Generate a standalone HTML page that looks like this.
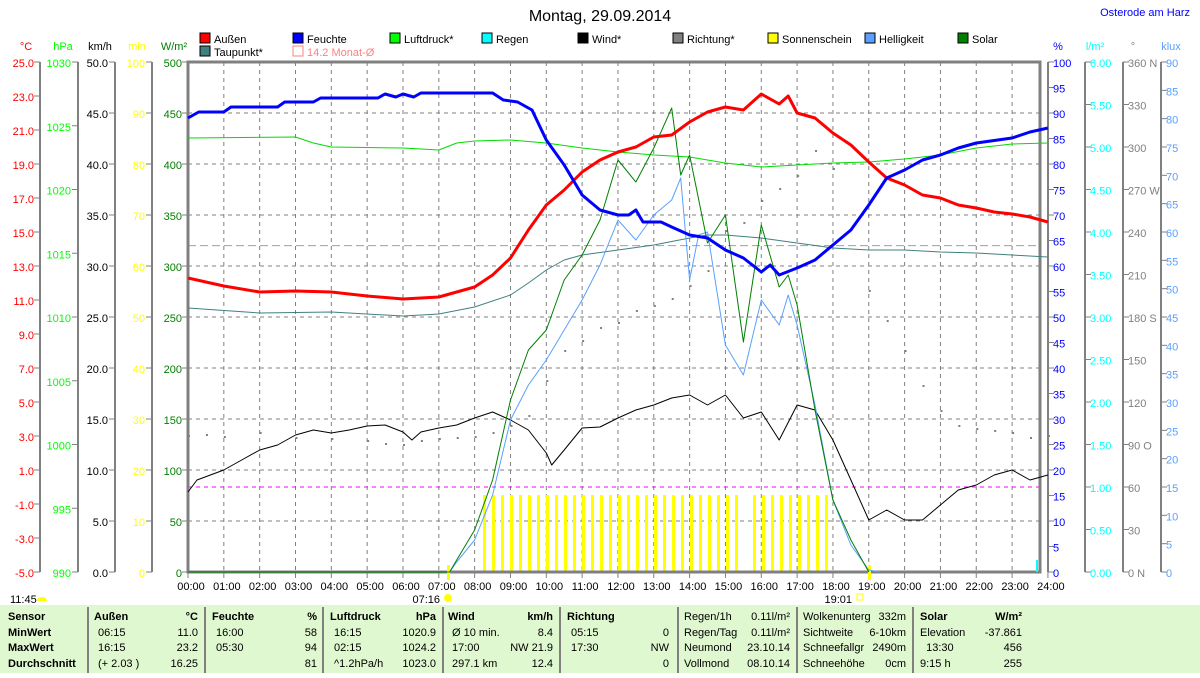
<!DOCTYPE html>
<html><head><meta charset="utf-8"><style>
body{margin:0;background:#fff;width:1200px;height:673px;overflow:hidden;font-family:"Liberation Sans",sans-serif}
svg text{font-family:"Liberation Sans",sans-serif;font-size:11px}
</style></head><body>
<svg id="s" width="1200" height="673" xmlns="http://www.w3.org/2000/svg">
<rect x="0" y="605" width="1200" height="68" fill="#e0f8d0"/>
<text x="600" y="21" text-anchor="middle" style="font-size:16px">Montag, 29.09.2014</text>
<text x="1190" y="16" text-anchor="end" fill="#0000ff" style="font-size:11px">Osterode am Harz</text>
<g id="g"></g>
</svg>
<script>
const S=document.getElementById('g');let h='';
const X=t=>188+t*35.83;
function line(x1,y1,x2,y2,c,w,d){h+=`<line x1="${x1}" y1="${y1}" x2="${x2}" y2="${y2}" stroke="${c}" stroke-width="${w||1}" ${d?`stroke-dasharray="${d}"`:''}/>`;}
function txt(x,y,s,c,a,extra){h+=`<text x="${x}" y="${y}" fill="${c||'#000'}" text-anchor="${a||'start'}" ${extra||''}>${s}</text>`;}
for(let i=1;i<24;i++)line(X(i),62,X(i),572,'#808080',1,'4,4');
for(let j=1;j<10;j++)line(188,62+j*51,1040,62+j*51,'#808080',1,'4,4');
line(188,245.6,1040,245.6,'#a0a0a0',1,'8,4');
line(188,487,1040,487,'#ff00ff',1,'4,4');
for(let x=484;x<=826;x+=9.0){ if(x>736&&x<750)continue; h+=`<rect x="${x-1}" y="495" width="3" height="77" fill="#ffff00"/>`;}
h+=`<rect x="188" y="62" width="852" height="510" fill="none" stroke="#808080" stroke-width="3"/>`;
const axes=[[40,'°C','#ff0000',i=>(25-2*i).toFixed(1),15,34],[78,'hPa','#00ff00',i=>(1030-i*5),8,71],[115,'km/h','#000',i=>(50-5*i).toFixed(1),10,108],[152,'min','#ffff00',i=>(100-10*i),10,145],[188,'W/m²','#008000',i=>(500-50*i),10,182]];
axes.forEach(([ax,u,c,f,n,lx])=>{line(ax,62,ax,572,'#808080',2);const st=510/n;
 for(let i=0;i<=n;i++){const y=62+i*st;line(ax-6,y,ax,y,'#808080',1);txt(lx,y+5,f(i),c,'end');}
 txt(lx-8,50,u,c,'middle');});
const ra=[[1048,'%','#0000ff',i=>100-5*i,20],[1085,'l/m²','#00ffff',i=>(6-0.5*i).toFixed(2),12],[1123,'°','#808080',i=>{let v=360-30*i;return v+({360:' N',270:' W',180:' S',90:' O',0:' N'}[v]||'')},12],[1161,'klux','#5aa0ff',i=>90-5*i,18]];
ra.forEach(([ax,u,c,f,n])=>{line(ax,62,ax,572,'#808080',2);const st=510/n;
 for(let i=0;i<=n;i++){const y=62+i*st;line(ax,y,ax+6,y,'#808080',1);txt(ax+5,y+5,f(i),c,'start');}
 txt(ax+10,50,u,c,'middle');});
for(let i=0;i<=24;i++){line(X(i),572,X(i),578,'#808080',1);txt(X(i)+3,590,(i<10?'0':'')+i+':00','#000','middle');}
line(X(7.27),565,X(7.27),580,'#ffff00',3);line(X(19.02),565,X(19.02),580,'#ffff00',3);
txt(440,603,'07:16','#000','end');h+=`<circle cx="448" cy="598" r="4" fill="#ffff00"/>`;
txt(852,603,'19:01','#000','end');h+=`<rect x="857" y="594" width="6" height="6" fill="none" stroke="#ffff00"/>`;
txt(10,603,'11:45');h+=`<path d="M37 601 a5 4 0 0 1 10 0z" fill="#ffff00"/>`;
const lg=[[200,'Außen','#ff0000'],[293,'Feuchte','#0000ff'],[390,'Luftdruck*','#00ff00'],[482,'Regen','#00ffff'],[578,'Wind*','#000'],[673,'Richtung*','#808080'],[768,'Sonnenschein','#ffff00'],[865,'Helligkeit','#5aa0ff'],[958,'Solar','#008000']];
lg.forEach(([x,t,c])=>{h+=`<rect x="${x}" y="33" width="10" height="10" fill="${c}" stroke="#000"/>`;txt(x+14,43,t);});
h+=`<rect x="200" y="46" width="10" height="10" fill="#408080" stroke="#000"/>`;txt(214,56,'Taupunkt*');
h+=`<rect x="293" y="46" width="10" height="10" fill="none" stroke="#ff8080"/>`;txt(307,56,'14.2 Monat-Ø','#ff8080');
function pl(pts,c,w){h+=`<polyline fill="none" stroke="${c}" stroke-width="${w}" stroke-linejoin="round" points="${pts.map(p=>X(p[0]).toFixed(1)+','+p[1]).join(' ')}"/>`;}
pl([[0,308],[2,313],[4,312],[6,316],[7,314],[8,307],[9,295],[9.5,283],[10,270],[10.5,260],[11,255],[12,250],[13,245],[14,238],[14.5,235],[15,235],[16,238],[17,243],[18,248],[19,250],[20,250],[21,252],[22,253],[23,255],[24,257]],'#408080',1);
pl([[0,138],[3,137],[3.5,143],[4,147],[6,148],[7,150],[7.5,143],[8,141],[9,140],[10,143],[11,148],[12,152],[13,155],[14,157],[15,163],[16,167],[17,165],[18,163],[19,162],[20,159],[21,155],[22,148],[23,144],[24,143]],'#00dd00',1);
const dd=[[0,435],[0.5,434],[1,436],[2,432],[3,437],[4,438],[5,440],[5.5,443],[6,444],[6.5,440],[7,438],[7.5,437],[8,436],[8.5,432],[9,425],[9.5,415],[10,380],[10.5,350],[11,340],[11.5,327],[12,322],[12.5,310],[13,305],[13.5,298],[14,285],[14.5,270],[15,230],[15.5,222],[16,200],[16.5,188],[17,175],[17.5,150],[18,168],[19,290],[19.5,320],[20,350],[20.5,385],[21,410],[21.5,425],[22,428],[22.5,430],[23,432],[23.5,437],[24,435]];
dd.forEach(p=>h+=`<rect x="${X(p[0])}" y="${p[1]}" width="2" height="2" fill="#808080"/>`);
pl([[0,492],[0.25,480],[1,470],[1.5,460],[2,450],[2.5,445],[3,435],[3.5,430],[4,433],[4.5,430],[5,426],[5.5,425],[6,432],[6.25,440],[6.5,432],[7,428],[7.5,425],[8,418],[8.5,412],[9,420],[9.5,430],[10,453],[10.15,465],[10.5,450],[11,428],[11.5,427],[12,418],[12.5,410],[13,405],[13.5,398],[14,395],[14.5,405],[15,395],[15.5,418],[16,412],[16.5,440],[17,405],[17.5,410],[18,440],[18.5,480],[19,520],[19.5,510],[20,520],[20.5,520],[21,505],[21.5,490],[22,485],[22.5,475],[23,470],[23.5,480],[24,475]],'#000',1);
pl([[0,572],[7.3,572],[7.5,562],[8,540],[8.5,495],[9,420],[9.5,385],[10,360],[10.5,330],[11,300],[11.5,265],[12,220],[12.5,240],[13,215],[13.5,200],[13.75,178],[14,280],[14.25,235],[14.5,232],[15,345],[15.5,375],[16,300],[16.5,325],[16.75,295],[17,325],[17.5,405],[18,500],[18.5,545],[19,570],[19.3,572]],'#5aa0ff',1);
pl([[0,572],[7.3,572],[7.5,560],[8,530],[8.5,480],[9,400],[9.5,350],[10,330],[10.5,280],[11,255],[11.5,220],[12,160],[12.5,182],[13,148],[13.5,108],[13.75,175],[14,155],[14.5,243],[15,215],[15.5,342],[16,225],[16.5,287],[16.75,275],[17,305],[17.5,410],[18,500],[18.5,540],[19,572]],'#008000',1);
pl([[0,278],[1,286],[2,292],[3,291],[4,292],[5,296],[6,299],[7,297],[8,287],[8.5,275],[9,258],[9.5,230],[10,205],[10.5,190],[11,172],[11.5,160],[12,152],[12.5,147],[13,137],[13.5,135],[14,122],[14.5,112],[15,107],[15.5,110],[16,94],[16.5,104],[16.75,96],[17,113],[17.5,118],[18,133],[18.5,145],[19,162],[19.5,178],[20,185],[20.5,195],[21,198],[21.5,205],[22,208],[22.5,212],[23,214],[23.5,217],[24,222]],'#ff0000',3);
pl([[0,118],[0.3,112],[1,112],[1.2,107],[2.5,107],[2.7,102],[3.5,102],[3.7,98],[5.3,98],[5.5,94],[5.8,97],[6,94],[6.3,97],[6.5,93],[8.5,93],[8.8,100],[9.2,102],[9.6,110],[10,140],[10.5,165],[11,195],[11.5,210],[12,215],[12.3,215],[12.5,210],[12.7,222],[13.2,222],[13.5,227],[14,235],[14.5,238],[15,250],[15.5,258],[16,272],[16.25,265],[16.5,275],[17,268],[17.5,260],[18,245],[18.5,230],[19,205],[19.5,178],[20,170],[20.5,160],[21,155],[21.5,148],[22,143],[23,138],[23.5,132],[24,128]],'#0000ff',3);
line(1037,560,1037,572,'#00ffff',2);
[88,205,323,443,560,678,797,913].forEach(x=>line(x,607,x,673,'#808080',2));
const B='font-weight="bold"';
const rows=[620,636,651,667];
['Sensor','MinWert','MaxWert','Durchschnitt'].forEach((t,i)=>txt(8,rows[i],t,'#000','start',B));
function col(x0,x1,title,unit,data){txt(x0,rows[0],title,'#000','start',B);txt(x1,rows[0],unit,'#000','end',B);
 data.forEach((d,i)=>{if(d[0])txt(x0+4,rows[i+1],d[0]);if(d[1])txt(x1,rows[i+1],d[1],'#000','end');});}
col(94,198,'Außen','°C',[['06:15','11.0'],['16:15','23.2'],['(+ 2.03 )','16.25']]);
col(212,317,'Feuchte','%',[['16:00','58'],['05:30','94'],['','81']]);
col(330,436,'Luftdruck','hPa',[['16:15','1020.9'],['02:15','1024.2'],['^1.2hPa/h','1023.0']]);
col(448,553,'Wind','km/h',[['Ø 10 min.','8.4'],['17:00','NW 21.9'],['297.1 km','12.4']]);
col(567,669,'Richtung','',[['05:15','0'],['17:30','NW'],['','0']]);
const r2=[['Regen/1h','0.11l/m²'],['Regen/Tag','0.11l/m²'],['Neumond','23.10.14'],['Vollmond','08.10.14']];
r2.forEach((d,i)=>{txt(684,rows[i],d[0]);txt(790,rows[i],d[1],'#000','end');});
const r3=[['Wolkenunterg','332m'],['Sichtweite','6-10km'],['Schneefallgr','2490m'],['Schneehöhe','0cm']];
r3.forEach((d,i)=>{txt(803,rows[i],d[0]);txt(906,rows[i],d[1],'#000','end');});
txt(920,rows[0],'Solar','#000','start',B);txt(1022,rows[0],'W/m²','#000','end',B);
[['Elevation','-37.861'],['  13:30','456'],['9:15 h','255']].forEach((d,i)=>{txt(920,rows[i+1],d[0],'#000','start','xml:space="preserve"');txt(1022,rows[i+1],d[1],'#000','end');});
S.innerHTML=h;
</script>
</body></html>
